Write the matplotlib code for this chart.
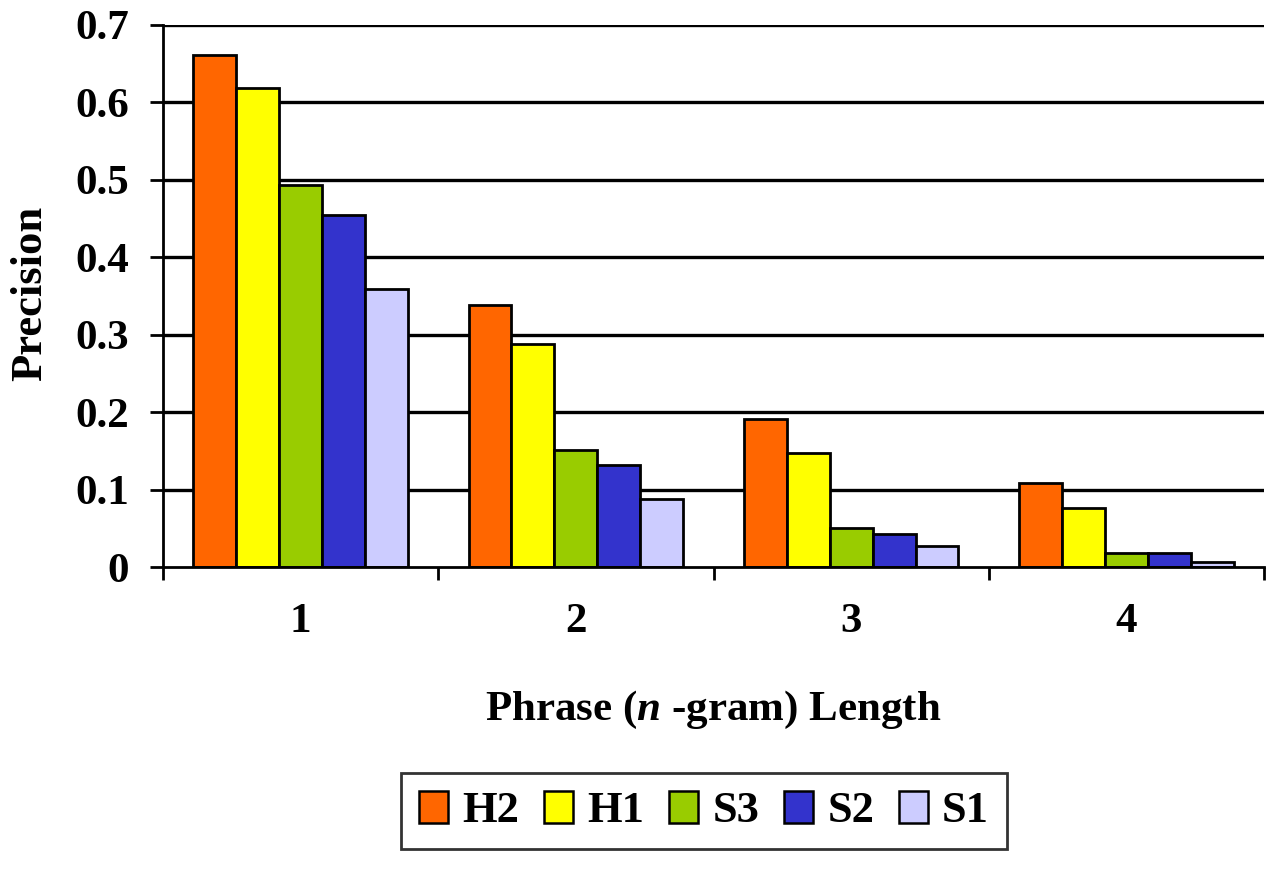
import matplotlib
matplotlib.use("Agg")
import matplotlib.pyplot as plt
import numpy as np
from matplotlib.patches import Patch

categories = ["1", "2", "3", "4"]
series = ["H2", "H1", "S3", "S2", "S1"]
H2 = [0.661, 0.339, 0.191, 0.109]
H1 = [0.619, 0.288, 0.147, 0.076]
S3 = [0.493, 0.151, 0.051, 0.018]
S2 = [0.454, 0.132, 0.043, 0.018]
S1 = [0.359, 0.088, 0.027, 0.007]
values = [H2, H1, S3, S2, S1]
colors = ["#FF6600", "#FFFF00", "#99CC00", "#3333CC", "#CCCCFF"]
yticks = [0, 0.1, 0.2, 0.3, 0.4, 0.5, 0.6, 0.7]
ytick_labels = ["0", "0.1", "0.2", "0.3", "0.4", "0.5", "0.6", "0.7"]

plt.rcParams['font.family'] = ['Liberation Serif', 'DejaVu Serif']
plt.rcParams['font.weight'] = 'bold'
plt.rcParams['mathtext.fontset'] = 'custom'
plt.rcParams['mathtext.rm'] = 'Liberation Serif:bold'
plt.rcParams['mathtext.it'] = 'Liberation Serif:italic:bold'

FS = 31
W, H = 1285, 880
fig = plt.figure(figsize=(W / 100, H / 100), dpi=100)
ax = fig.add_axes([163 / W, (H - 567) / H, (1264 - 163) / W, (567 - 25) / H])

x = np.arange(len(categories))
bw = 0.156
for i, (vals, c) in enumerate(zip(values, colors)):
    ax.bar(x + (i - 2) * bw, vals, width=bw, color=c, edgecolor='black',
           linewidth=2.0, zorder=3)

ax.set_xlim(-0.5, len(categories) - 0.5)
ax.set_ylim(0, 0.7)
ax.set_yticks(yticks)
ax.set_yticklabels(ytick_labels, fontsize=FS, fontweight='bold')
for t in yticks[1:]:
    ax.axhline(t, color='black', linewidth=2.4, zorder=1)

ax.set_xticks(np.arange(-0.5, len(categories), 1.0))
ax.set_xticklabels([])
ax.set_xticks(x, minor=True)
ax.set_xticklabels(categories, minor=True, fontsize=FS, fontweight='bold')
ax.tick_params(axis='x', which='major', direction='out', length=9, width=2.0)
ax.tick_params(axis='x', which='minor', length=0, pad=26)
ax.tick_params(axis='y', direction='out', length=9.5, width=2.0, pad=15)

for s in ['top', 'right']:
    ax.spines[s].set_visible(False)
for s in ['left', 'bottom']:
    ax.spines[s].set_linewidth(2.0)
    ax.spines[s].set_zorder(4)

fig.text(713 / W, 1 - 710 / H, r'Phrase ($\mathit{n}$ -gram) Length', fontsize=FS,
         fontweight='bold', ha='center', va='center')
fig.text(30 / W, 1 - 293 / H, 'Precision', fontsize=32, fontweight='bold',
         rotation=90, ha='center', va='center')

handles = [Patch(facecolor=c, edgecolor='black', linewidth=1.8) for c in colors]
leg = fig.legend(handles, series, loc='center', bbox_to_anchor=(704 / W, 1 - 811 / H),
                 ncol=5, prop={'weight': 'bold', 'size': 32},
                 frameon=True, fancybox=False, edgecolor='black',
                 handlelength=0.66, handleheight=0.72, handletextpad=0.32,
                 columnspacing=0.55, borderpad=0.4)
leg.get_frame().set_linewidth(2.0)

fig.savefig('out.png', dpi=100)
